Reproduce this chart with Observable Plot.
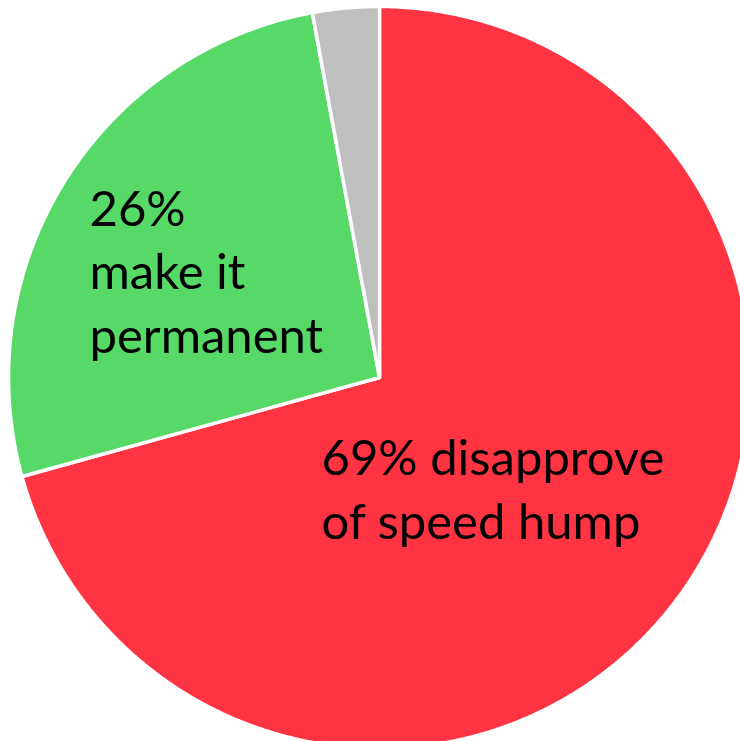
<!DOCTYPE html>
<html>
<head>
<meta charset="utf-8">
<script src="https://cdn.jsdelivr.net/npm/d3@7"></script>
<script src="https://cdn.jsdelivr.net/npm/@observablehq/plot@0.6"></script>
<style>
  html, body { margin: 0; padding: 0; background: #fff; }
  #chart svg { display: block; }
</style>
</head>
<body>
<div id="chart"></div>
<script>
// Slices, clockwise from 12 o'clock
const categories = ["disapprove", "make it permanent", "other"];
const values = [70.7, 26.4, 2.9];
const colors = ["#FE3443", "#56D966", "#BFBFBF"];
const labels = ["69% disapprove\nof speed hump", "26%\nmake it\npermanent", ""];

const W = 740, H = 741;
const cx = 379, cy = 377, R = 371;

const arcs = d3.pie().sort(null)(values);

// polygon points for each slice in unit (data) coordinates
function slicePoints(a, name) {
  const pts = [{x: 0, y: 0, name}];
  const n = Math.max(2, Math.ceil((a.endAngle - a.startAngle) / 0.005));
  for (let i = 0; i <= n; i++) {
    const t = a.startAngle + (a.endAngle - a.startAngle) * i / n;
    pts.push({x: Math.sin(t), y: Math.cos(t), name});
  }
  pts.push({x: 0, y: 0, name});
  return pts;
}

function polar(a, r) {
  const t = (a.startAngle + a.endAngle) / 2;
  return {x: Math.sin(t) * r, y: Math.cos(t) * r};
}

const sliceMarks = arcs.map((a, i) =>
  Plot.line(slicePoints(a, categories[i]), {
    x: "x", y: "y", fill: colors[i], stroke: "white",
    strokeWidth: 3.5, strokeLinejoin: "miter"
  })
);

const redPos = polar(arcs[0], 0.45);
const greenPos = polar(arcs[1], 0.5);

const textStyle = {
  fontFamily: "Lato, 'Open Sans', sans-serif",
  fontSize: 49,
  lineHeight: 1.29,
  textAnchor: "start",
  lineAnchor: "bottom",
  fill: "black"
};

const chart = Plot.plot({
  width: W,
  height: H,
  margin: 0,
  x: {domain: [-cx / R, (W - cx) / R], axis: null},
  y: {domain: [-(H - cy) / R, cy / R], axis: null},
  style: {background: "white"},
  marks: [
    ...sliceMarks,
    Plot.text([{...redPos, label: labels[0]}], {
      x: "x", y: "y", text: "label", ...textStyle,
      dx: 321 - (cx + redPos.x * R), dy: 538 - (cy - redPos.y * R)
    }),
    Plot.text([{...greenPos, label: labels[1]}], {
      x: "x", y: "y", text: "label", ...textStyle,
      dx: 89 - (cx + greenPos.x * R), dy: 352 - (cy - greenPos.y * R)
    })
  ]
});

document.getElementById("chart").appendChild(chart);
</script>
</body>
</html>
